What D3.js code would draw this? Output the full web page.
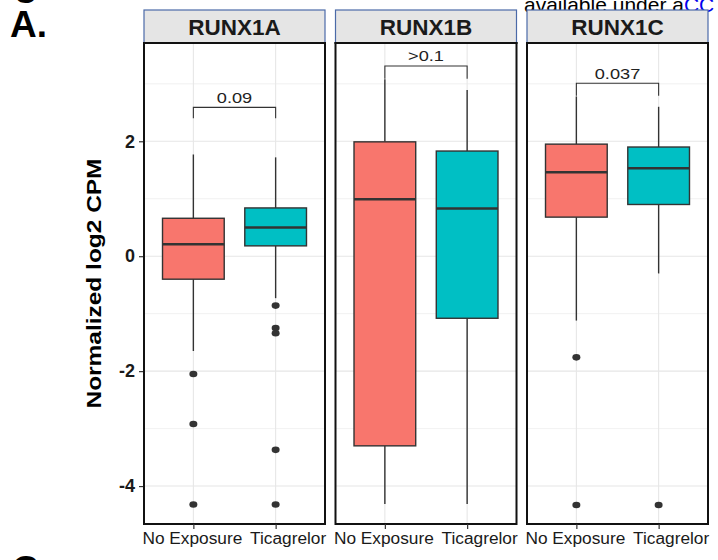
<!DOCTYPE html>
<html>
<head>
<meta charset="utf-8">
<script src="https://cdn.jsdelivr.net/npm/d3@7"></script>
<style>
  body { margin: 0; background: #fff; }
  text { font-family: "Liberation Sans", Arial, sans-serif; }
</style>
</head>
<body>
<div id="chart"></div>
<script>
// panels and groups
var genes = ["RUNX1A", "RUNX1B", "RUNX1C"];
var groups = ["No Exposure", "Ticagrelor"];
var groupColors = ["#F8766D", "#00BFC4"];

// box stats per gene, [No Exposure, Ticagrelor]: low whisker, q1, median, q3, high whisker
var lowWhisker = [[-1.65, -0.73], [-4.31, -4.31], [-1.12, -0.30]];
var q1Values = [[-0.40, 0.18], [-3.30, -1.08], [0.68, 0.90]];
var medianValues = [[0.21, 0.50], [0.99, 0.83], [1.46, 1.53]];
var q3Values = [[0.66, 0.84], [1.99, 1.83], [1.95, 1.90]];
var highWhisker = [[1.77, 1.72], [3.08, 2.89], [2.78, 2.60]];
var outlierValues = [
  [[-2.05, -2.92, -4.32], [-0.86, -1.25, -1.34, -3.37, -4.32]],
  [[], []],
  [[-1.76, -4.33], [-4.33]]
];

// p-value brackets
var pLabels = ["0.09", ">0.1", "0.037"];
var bracketTop = [2.59, 3.31, 3.01];
var bracketTip = [2.40, 3.09, 2.79];

var yTicks = [-4, -2, 0, 2];
var yMinor = [-3, -1, 1, 3];

var svgWidth = 718;
var svgHeight = 560;

var svg = d3.select("#chart")
  .append("svg")
  .attr("width", svgWidth)
  .attr("height", svgHeight);

var panelLeft = 144;
var panelWidth = 181;
var panelGap = 10.5;
var stripTop = 10;
var plotTop = 43;
var plotBottom = 524;

var y = d3.scaleLinear()
  .domain([-4.66, 3.71])
  .range([plotBottom, plotTop]);

// discrete x, categories at 0.6 and 1.6 of a 2.2 unit range (ggplot style)
var x = d3.scalePoint()
  .domain(groups)
  .range([0, panelWidth])
  .padding(0.6);
var boxW = 0.75 * x.step();

// page fragments around the figure
svg.append("text")
  .attr("x", 10).attr("y", 37)
  .attr("font-size", 37).attr("font-weight", "bold")
  .text("A.");

svg.append("text")
  .attr("x", 14).attr("y", -5)
  .attr("font-size", 40).attr("font-weight", "bold")
  .text("g");

svg.append("text")
  .attr("x", 12).attr("y", 582)
  .attr("font-size", 37).attr("font-weight", "bold")
  .text("C.");

var avail = svg.append("text")
  .attr("x", 524).attr("y", 12)
  .attr("font-size", 21);
avail.append("tspan").text("available under a");
avail.append("tspan").attr("fill", "#0000ee").text("CC");

// y axis title
svg.append("text")
  .attr("transform", `translate(101, ${(plotTop + plotBottom) / 2}) rotate(-90)`)
  .attr("text-anchor", "middle")
  .attr("font-size", 19.5)
  .attr("font-weight", "bold")
  .attr("textLength", 250)
  .attr("lengthAdjust", "spacingAndGlyphs")
  .text("Normalized log2 CPM");

// y axis on the first panel
var yAxis = svg.append("g")
  .attr("transform", `translate(${panelLeft}, 0)`)
  .call(d3.axisLeft(y).tickValues(yTicks).tickSize(5).tickPadding(4).tickFormat(d => String(d)));
yAxis.select(".domain").remove();
yAxis.selectAll("line").attr("stroke", "#333").attr("stroke-width", 1.2);
yAxis.selectAll("text")
  .attr("font-size", 18).attr("font-weight", "bold").attr("fill", "#1a1a1a")
  .style("font-family", "'Liberation Sans', Arial, sans-serif");

genes.forEach(function(gene, gi) {
  var x0 = panelLeft + gi * (panelWidth + panelGap);
  var panel = svg.append("g").attr("transform", `translate(${x0}, 0)`);

  // grid
  panel.selectAll(".minor")
    .data(yMinor).enter().append("line")
    .attr("x1", 0).attr("x2", panelWidth)
    .attr("y1", d => y(d)).attr("y2", d => y(d))
    .attr("stroke", "#ededed").attr("stroke-width", 0.8);
  panel.selectAll(".major")
    .data(yTicks).enter().append("line")
    .attr("x1", 0).attr("x2", panelWidth)
    .attr("y1", d => y(d)).attr("y2", d => y(d))
    .attr("stroke", "#e6e6e6").attr("stroke-width", 1.1);
  panel.selectAll(".vgrid")
    .data(groups).enter().append("line")
    .attr("x1", d => x(d)).attr("x2", d => x(d))
    .attr("y1", plotTop).attr("y2", plotBottom)
    .attr("stroke", "#e6e6e6").attr("stroke-width", 1.1);

  // boxes
  groups.forEach(function(g, i) {
    var cx = x(g);
    panel.append("line")
      .attr("x1", cx).attr("x2", cx)
      .attr("y1", y(highWhisker[gi][i])).attr("y2", y(q3Values[gi][i]))
      .attr("stroke", "#333").attr("stroke-width", 1.4);
    panel.append("line")
      .attr("x1", cx).attr("x2", cx)
      .attr("y1", y(q1Values[gi][i])).attr("y2", y(lowWhisker[gi][i]))
      .attr("stroke", "#333").attr("stroke-width", 1.4);
    panel.append("rect")
      .attr("x", cx - boxW / 2)
      .attr("width", boxW)
      .attr("y", y(q3Values[gi][i]))
      .attr("height", y(q1Values[gi][i]) - y(q3Values[gi][i]))
      .attr("fill", groupColors[i])
      .attr("stroke", "#333").attr("stroke-width", 1.4);
    panel.append("line")
      .attr("x1", cx - boxW / 2).attr("x2", cx + boxW / 2)
      .attr("y1", y(medianValues[gi][i])).attr("y2", y(medianValues[gi][i]))
      .attr("stroke", "#333").attr("stroke-width", 2.5);
    panel.selectAll(".out" + i)
      .data(outlierValues[gi][i]).enter().append("ellipse")
      .attr("cx", cx).attr("cy", d => y(d))
      .attr("rx", 4).attr("ry", 3.3)
      .attr("fill", "#333");
  });

  // bracket and p-value
  var bx1 = x(groups[0]), bx2 = x(groups[1]);
  var mid = (bx1 + bx2) / 2;
  panel.append("path")
    .attr("d", `M${bx1},${y(bracketTip[gi])}V${y(bracketTop[gi])}H${bx2}V${y(bracketTip[gi])}`)
    .attr("fill", "none").attr("stroke", "#333").attr("stroke-width", 1.1);
  panel.append("text")
    .attr("x", mid).attr("y", y(bracketTop[gi]) - 4.5)
    .attr("text-anchor", "middle")
    .attr("font-size", 14).attr("fill", "#222")
    .attr("transform", `translate(${mid}, 0) scale(1.3, 1) translate(${-mid}, 0)`)
    .text(pLabels[gi]);

  // panel border
  panel.append("rect")
    .attr("x", 0).attr("y", plotTop)
    .attr("width", panelWidth).attr("height", plotBottom - plotTop)
    .attr("fill", "none").attr("stroke", "#111").attr("stroke-width", 2);

  // strip
  panel.append("rect")
    .attr("x", 0).attr("y", stripTop)
    .attr("width", panelWidth).attr("height", plotTop - stripTop)
    .attr("fill", "#e5e5e5").attr("stroke", "#4b6aa8").attr("stroke-width", 1.2);
  panel.append("line")
    .attr("x1", -1).attr("x2", panelWidth + 1)
    .attr("y1", plotTop).attr("y2", plotTop)
    .attr("stroke", "#111").attr("stroke-width", 2);
  panel.append("text")
    .attr("x", panelWidth / 2).attr("y", stripTop + 25)
    .attr("text-anchor", "middle")
    .attr("font-size", 22.5).attr("font-weight", "bold").attr("fill", "#1a1a1a")
    .text(gene);

  // x axis
  var xAxis = panel.append("g")
    .attr("transform", `translate(0, ${plotBottom})`)
    .call(d3.axisBottom(x).tickSize(5).tickPadding(3));
  xAxis.select(".domain").remove();
  xAxis.selectAll("line").attr("stroke", "#333").attr("stroke-width", 1.2);
  xAxis.selectAll("text")
    .attr("font-size", 17.3).attr("fill", "#1a1a1a")
    .attr("dx", (d, i) => i === 1 ? 12 : -1.5)
    .style("font-family", "'Liberation Sans', Arial, sans-serif");
});
</script>
</body>
</html>
